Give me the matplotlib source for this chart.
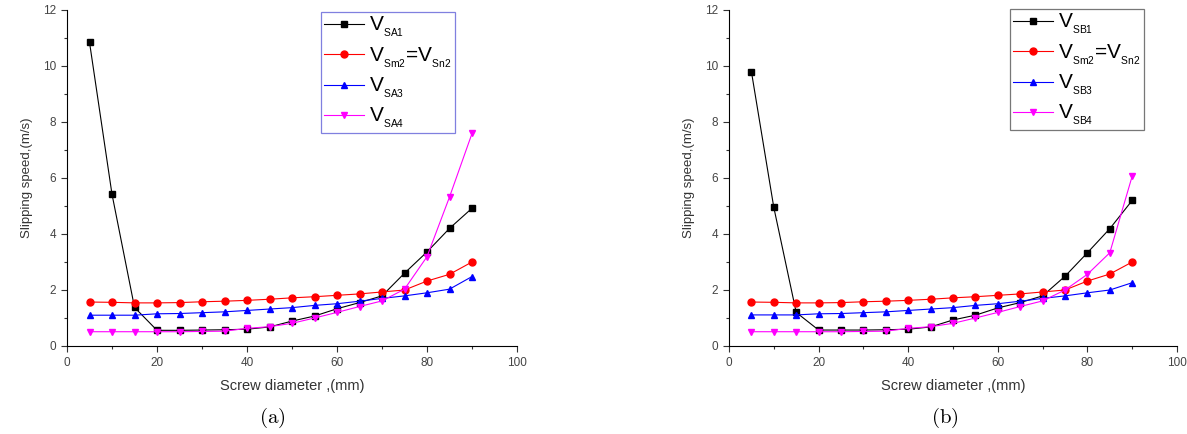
import matplotlib.pyplot as plt
from matplotlib.ticker import MultipleLocator

plt.rcParams['font.family'] = ['Liberation Sans', 'DejaVu Sans']
plt.rcParams['mathtext.fontset'] = 'custom'
plt.rcParams['mathtext.rm'] = 'Liberation Sans'

# screw diameter (mm)
diameter = [5, 10, 15, 20, 25, 30, 35, 40, 45, 50, 55, 60, 65, 70, 75, 80, 85, 90]

# panel (a)
v_sa1 = [10.85, 5.42, 1.38, 0.56, 0.56, 0.57, 0.58, 0.60, 0.68, 0.89, 1.07, 1.33, 1.55, 1.79, 2.60, 3.36, 4.20, 4.92]
v_sm2_a = [1.57, 1.56, 1.54, 1.54, 1.55, 1.58, 1.60, 1.63, 1.67, 1.72, 1.76, 1.81, 1.86, 1.93, 2.00, 2.32, 2.56, 3.00]
v_sa3 = [1.10, 1.10, 1.10, 1.15, 1.16, 1.19, 1.22, 1.27, 1.32, 1.37, 1.45, 1.51, 1.60, 1.70, 1.79, 1.90, 2.03, 2.48]
v_sa4 = [0.51, 0.51, 0.51, 0.51, 0.51, 0.52, 0.53, 0.63, 0.69, 0.81, 1.00, 1.20, 1.41, 1.61, 2.03, 3.19, 5.32, 7.59]

# panel (b)
v_sb1 = [9.80, 4.95, 1.20, 0.57, 0.57, 0.57, 0.58, 0.60, 0.68, 0.93, 1.10, 1.36, 1.55, 1.79, 2.49, 3.33, 4.19, 5.20]
v_sm2_b = [1.57, 1.56, 1.54, 1.54, 1.55, 1.58, 1.60, 1.63, 1.67, 1.72, 1.76, 1.81, 1.86, 1.93, 2.00, 2.32, 2.57, 3.00]
v_sb3 = [1.11, 1.11, 1.11, 1.15, 1.16, 1.19, 1.22, 1.27, 1.32, 1.37, 1.45, 1.51, 1.60, 1.70, 1.79, 1.90, 2.00, 2.26]
v_sb4 = [0.51, 0.51, 0.51, 0.51, 0.51, 0.52, 0.53, 0.63, 0.69, 0.81, 1.00, 1.20, 1.41, 1.61, 2.00, 2.56, 3.33, 6.07]

labels_a = [r'V$_{_{\rm SA1}}$', r'V$_{_{\rm Sm2}}$=V$_{_{\rm Sn2}}$', r'V$_{_{\rm SA3}}$', r'V$_{_{\rm SA4}}$']
labels_b = [r'V$_{_{\rm SB1}}$', r'V$_{_{\rm Sm2}}$=V$_{_{\rm Sn2}}$', r'V$_{_{\rm SB3}}$', r'V$_{_{\rm SB4}}$']

colors = ['black', 'red', 'blue', 'magenta']
markers = ['s', 'o', '^', 'v']

fig = plt.figure(figsize=(11.87, 4.34), dpi=100)
W, H = 1187, 434
ax_a = fig.add_axes([67 / W, 1 - 346 / H, 450 / W, 336 / H])
ax_b = fig.add_axes([729 / W, 1 - 346 / H, 448 / W, 336 / H])


def draw(ax, series, labels, edge, legend_box, caption, cap_x):
    for y, lab, c, m in zip(series, labels, colors, markers):
        ax.plot(diameter, y, color=c, marker=m, markersize=5, linewidth=0.8,
                markeredgecolor=c, label=lab)
    ax.set_xlim(0, 100)
    ax.set_ylim(0, 12)
    ax.xaxis.set_major_locator(MultipleLocator(20))
    ax.xaxis.set_minor_locator(MultipleLocator(10))
    ax.yaxis.set_major_locator(MultipleLocator(2))
    ax.yaxis.set_minor_locator(MultipleLocator(1))
    ax.spines['top'].set_visible(False)
    ax.spines['right'].set_visible(False)
    ax.tick_params(which='major', direction='out', length=4, labelsize=8.5,
                   width=0.8, pad=4, colors='#333333', labelcolor='#444444')
    ax.tick_params(which='minor', direction='out', length=2.5, width=0.8, colors='#333333')
    ax.set_xlabel('Screw diameter ,(mm)', fontsize=10.5, labelpad=7, color='#333333')
    ax.set_ylabel('Slipping speed,(m/s)', fontsize=9.5, labelpad=7, color='#333333')
    leg = ax.legend(loc='upper left', bbox_to_anchor=legend_box, fontsize=15,
                    frameon=True, fancybox=False, handlelength=1.9,
                    handletextpad=0.25, labelspacing=0.3, borderpad=0.15,
                    borderaxespad=0)
    leg.get_frame().set_edgecolor(edge)
    leg.get_frame().set_linewidth(0.9)
    fig.text(cap_x / W, 1 - 418 / H, r'$\mathrm{' + caption + '}$', fontsize=15,
             math_fontfamily='cm', ha='center', va='center')


draw(ax_a, [v_sa1, v_sm2_a, v_sa3, v_sa4], labels_a, '#6060d8',
     ((321 - 67) / 450, 1 - 2 / 336), '(a)', 272)
draw(ax_b, [v_sb1, v_sm2_b, v_sb3, v_sb4], labels_b, '#555555',
     ((1010 - 729) / 448, 1 + 1 / 336), '(b)', 945)

fig.savefig('out.png', dpi=100)
